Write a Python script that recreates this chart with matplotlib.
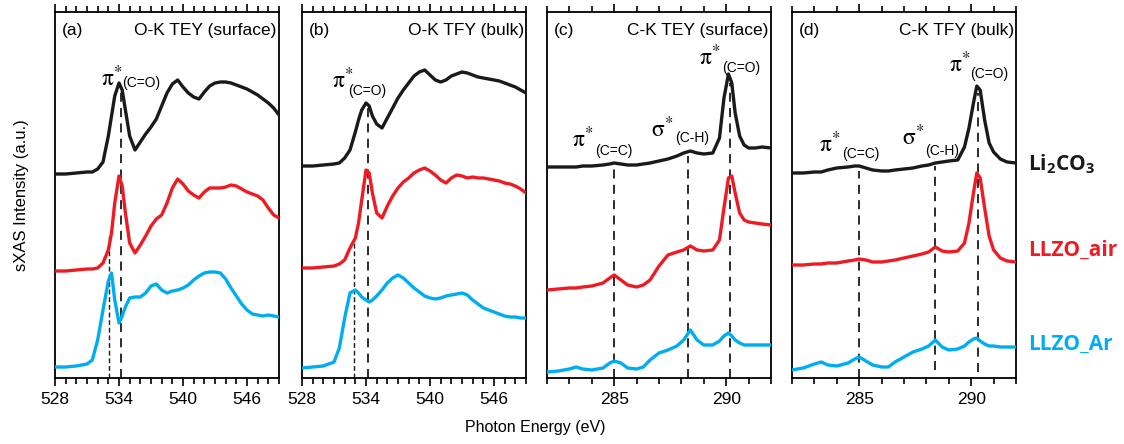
# sXAS spectra: O-K and C-K edges, TEY (surface) and TFY (bulk)

import matplotlib
matplotlib.use('Agg')
import matplotlib.pyplot as plt

plt.rcParams['font.family'] = ['Liberation Sans', 'DejaVu Sans']
plt.rcParams['mathtext.fontset'] = 'custom'
plt.rcParams['mathtext.rm'] = 'Open Sans:bold'
plt.rcParams['mathtext.bf'] = 'Open Sans:bold'

BLACK = '#1a1a1a'
RED = '#ed1c24'
BLUE = '#00aeef'

# O-K energies (eV)
e_ok = [528, 529, 530, 531, 531.5, 532, 532.5, 533, 533.3, 533.6, 534, 534.3, 534.6,
        535, 535.5, 536, 536.5, 537, 537.5, 538, 538.5, 539, 539.5, 540, 540.5, 541,
        541.5, 542, 542.5, 543, 543.5, 544, 544.5, 545, 545.5, 546, 546.5, 547, 547.5,
        548, 548.5, 549]

# (a) O-K TEY
a_li2co3 = [2.04, 2.04, 2.05, 2.06, 2.06, 2.09, 2.16, 2.42, 2.62, 2.82, 2.95, 2.88, 2.68,
            2.42, 2.28, 2.36, 2.44, 2.51, 2.59, 2.72, 2.85, 2.94, 2.98, 2.91, 2.85, 2.81,
            2.79, 2.86, 2.92, 2.95, 2.96, 2.96, 2.95, 2.93, 2.91, 2.89, 2.86, 2.83, 2.79,
            2.75, 2.70, 2.63]
a_air = [1.07, 1.07, 1.08, 1.09, 1.09, 1.10, 1.15, 1.28, 1.45, 1.75, 2.02, 1.92, 1.65,
         1.35, 1.25, 1.33, 1.42, 1.52, 1.59, 1.63, 1.75, 1.90, 1.99, 1.94, 1.87, 1.83,
         1.80, 1.86, 1.90, 1.90, 1.90, 1.91, 1.93, 1.92, 1.89, 1.86, 1.84, 1.82, 1.78,
         1.70, 1.63, 1.60]
a_ar = [0.11, 0.11, 0.12, 0.14, 0.18, 0.38, 0.68, 0.97, 1.05, 0.78, 0.55, 0.62, 0.71,
        0.80, 0.81, 0.81, 0.85, 0.92, 0.94, 0.88, 0.85, 0.87, 0.88, 0.90, 0.93, 0.98,
        1.02, 1.05, 1.06, 1.06, 1.05, 0.99, 0.90, 0.82, 0.74, 0.68, 0.64, 0.63, 0.62,
        0.63, 0.62, 0.61]

# (b) O-K TFY
b_li2co3 = [2.12, 2.12, 2.13, 2.14, 2.15, 2.20, 2.28, 2.46, 2.58, 2.68, 2.75, 2.72, 2.62,
            2.54, 2.50, 2.60, 2.70, 2.80, 2.88, 2.95, 3.02, 3.06, 3.08, 3.03, 2.98, 2.96,
            2.98, 3.02, 3.04, 3.06, 3.05, 3.03, 3.01, 3.00, 2.99, 2.98, 2.97, 2.95, 2.93,
            2.91, 2.88, 2.85]
b_air = [1.10, 1.10, 1.11, 1.12, 1.14, 1.18, 1.30, 1.40, 1.55, 1.78, 2.08, 2.05, 1.85,
         1.65, 1.60, 1.72, 1.82, 1.90, 1.96, 2.00, 2.05, 2.08, 2.10, 2.07, 2.03, 1.98,
         1.95, 2.00, 2.03, 2.02, 2.00, 2.01, 2.00, 2.00, 1.99, 1.98, 1.97, 1.95, 1.94,
         1.92, 1.89, 1.85]
b_ar = [0.10, 0.11, 0.12, 0.16, 0.30, 0.60, 0.85, 0.88, 0.85, 0.81, 0.78, 0.76, 0.78,
        0.82, 0.88, 0.95, 1.00, 1.03, 1.00, 0.95, 0.90, 0.86, 0.82, 0.80, 0.79, 0.80,
        0.82, 0.83, 0.84, 0.85, 0.83, 0.78, 0.74, 0.70, 0.68, 0.66, 0.64, 0.62, 0.61,
        0.61, 0.60, 0.60]

# C-K energies (eV)
e_ck = [282, 282.5, 283, 283.3, 283.6, 284, 284.5, 284.8, 285, 285.3, 285.6, 286, 286.3,
        286.6, 287, 287.4, 287.8, 288.1, 288.4, 288.7, 289, 289.4, 289.7, 289.9, 290.1,
        290.25, 290.4, 290.6, 290.8, 291, 291.3, 291.6, 292]

# (c) C-K TEY
c_li2co3 = [2.11, 2.11, 2.11, 2.11, 2.12, 2.12, 2.13, 2.14, 2.15, 2.14, 2.13, 2.13, 2.14,
            2.15, 2.17, 2.19, 2.22, 2.25, 2.27, 2.25, 2.24, 2.25, 2.40, 2.80, 3.04,
            2.95, 2.65, 2.42, 2.33, 2.30, 2.30, 2.31, 2.30]
c_air = [0.88, 0.89, 0.90, 0.90, 0.91, 0.92, 0.95, 1.00, 1.03, 0.98, 0.93, 0.91, 0.93,
         0.98, 1.12, 1.23, 1.26, 1.28, 1.32, 1.28, 1.27, 1.28, 1.38, 1.70, 2.00,
         2.02, 1.85, 1.65, 1.58, 1.56, 1.55, 1.54, 1.53]
c_ar = [0.06, 0.07, 0.09, 0.11, 0.09, 0.08, 0.10, 0.15, 0.17, 0.15, 0.10, 0.09, 0.11,
        0.18, 0.25, 0.28, 0.32, 0.38, 0.48, 0.38, 0.33, 0.33, 0.37, 0.42, 0.45,
        0.42, 0.38, 0.35, 0.33, 0.33, 0.33, 0.33, 0.33]

# (d) C-K TFY
d_li2co3 = [2.05, 2.05, 2.06, 2.06, 2.08, 2.10, 2.11, 2.12, 2.12, 2.10, 2.08, 2.07, 2.07,
            2.08, 2.09, 2.10, 2.12, 2.13, 2.15, 2.16, 2.17, 2.18, 2.31, 2.50, 2.75,
            2.92, 2.88, 2.58, 2.35, 2.26, 2.19, 2.16, 2.15]
d_air = [1.13, 1.13, 1.14, 1.14, 1.15, 1.15, 1.17, 1.18, 1.19, 1.18, 1.16, 1.16, 1.17,
         1.18, 1.20, 1.22, 1.24, 1.26, 1.31, 1.27, 1.26, 1.27, 1.35, 1.55, 1.85,
         2.05, 2.00, 1.70, 1.42, 1.28, 1.20, 1.17, 1.16]
d_ar = [0.08, 0.10, 0.14, 0.16, 0.13, 0.12, 0.15, 0.19, 0.21, 0.17, 0.13, 0.11, 0.11,
        0.16, 0.21, 0.26, 0.29, 0.32, 0.38, 0.31, 0.28, 0.29, 0.32, 0.36, 0.39,
        0.40, 0.37, 0.34, 0.32, 0.32, 0.31, 0.31, 0.31]

titles = ['O-K TEY (surface)', 'O-K TFY (bulk)', 'C-K TEY (surface)', 'C-K TFY (bulk)']
tags = ['(a)', '(b)', '(c)', '(d)']
sample_names = [r'Li$_\mathbf{2}$CO$_\mathbf{3}$', 'LLZO_air', 'LLZO_Ar']

# peak markers: energy, top, bottom (long dashes)
marks_a = [(534.15, 2.88, 0.0)]
marks_b = [(534.15, 2.70, 0.0)]
marks_c = [(285.0, 2.10, 0.0), (288.3, 2.22, 0.0), (290.15, 2.95, 0.0)]
marks_d = [(285.0, 2.07, 0.0), (288.4, 2.12, 0.08), (290.3, 2.85, 0.06)]
# fine dashes (shoulder of LLZO)
fine_a = [(533.1, 1.45, 0.0)]
fine_b = [(532.85, 1.38, 0.0)]

PI = r'$\mathrm{\pi}^{*}$'
SIGMA = r'$\mathrm{\sigma}^{*}$'
# peak labels: symbol, sub, x, y, x_sub, y_sub
labels_a = [(PI, '(C=O)', 532.3, 2.92, 534.3, 2.91)]
labels_b = [(PI, '(C=O)', 530.8, 2.90, 532.3, 2.83)]
labels_c = [(PI, '(C=C)', 283.1, 2.31, 284.14, 2.23),
            (SIGMA, '(C-H)', 286.65, 2.41, 287.71, 2.36),
            (PI, '(C=O)', 288.8, 3.13, 289.81, 3.06)]
labels_d = [(PI, '(C=C)', 283.2, 2.26, 284.23, 2.20),
            (SIGMA, '(C-H)', 286.9, 2.33, 287.94, 2.23),
            (PI, '(C=O)', 289.0, 3.06, 289.95, 3.00)]

fig = plt.figure(figsize=(11.24, 4.44), dpi=100)
lefts = [55, 302, 547, 792]
axes = [fig.add_axes([l / 1124, 66 / 444, 224 / 1124, 366 / 444]) for l in lefts]

panels = [
    (e_ok, [a_li2co3, a_air, a_ar], marks_a, fine_a, labels_a, (528, 549)),
    (e_ok, [b_li2co3, b_air, b_ar], marks_b, fine_b, labels_b, (528, 549)),
    (e_ck, [c_li2co3, c_air, c_ar], marks_c, [], labels_c, (282, 292)),
    (e_ck, [d_li2co3, d_air, d_ar], marks_d, [], labels_d, (282, 292)),
]

for i, (ax, (energy, curves, marks, fine, labels, xlim)) in enumerate(zip(axes, panels)):
    for yy, col in zip(curves, [BLACK, RED, BLUE]):
        ax.plot(energy, yy, color=col, lw=2.4, solid_joinstyle='round', zorder=3)
    for x, top, bot in marks:
        ax.plot([x, x], [bot, top], color=BLACK, lw=1.3, ls=(0, (5, 3.5)), zorder=2)
    for x, top, bot in fine:
        ax.plot([x, x], [bot, top], color=BLACK, lw=1.0, ls=(0, (3.5, 2)), zorder=2)
    for sym, sub, x, y, xs, ys in labels:
        ax.text(x, y, sym, fontsize=17, va='baseline', ha='left',
                math_fontfamily='stix')
        ax.text(xs, ys, sub, fontsize=10, va='baseline', ha='left')

    ax.set_xlim(*xlim)
    ax.set_ylim(0, 3.66)
    ax.set_yticks([])
    if i < 2:
        ax.set_xticks([528, 534, 540, 546])
        ax.set_xticks(range(528, 550), minor=True)
    else:
        ax.set_xticks([285, 290])
        ax.set_xticks(range(282, 293), minor=True)
    ax.tick_params(axis='x', which='both', direction='out', top=True,
                   labelsize=12.5, width=1.2, pad=4)
    ax.tick_params(axis='x', which='major', length=6)
    ax.tick_params(axis='x', which='minor', length=4)
    for s in ax.spines.values():
        s.set_linewidth(1.3)
    ax.text(0.03, 0.937, tags[i], transform=ax.transAxes, fontsize=12.5,
            ha='left', va='baseline')
    ax.text(0.99, 0.937, titles[i], transform=ax.transAxes, fontsize=12.5,
            ha='right', va='baseline')

fig.text(0.0195, 1 - 195 / 444, 'sXAS Intensity (a.u.)', rotation=90,
         ha='center', va='center', fontsize=12)
fig.text(535 / 1124, 0.02, 'Photon Energy (eV)', ha='center', va='bottom', fontsize=11.5)

name_y = [1 - 170 / 444, 1 - 256 / 444, 1 - 350 / 444]
for name, col, yy in zip(sample_names, [BLACK, RED, BLUE], name_y):
    fig.text(1028 / 1124, yy, name, color=col, fontsize=15, fontfamily='Open Sans',
             fontweight='bold', ha='left', va='baseline')

fig.savefig('out.png', dpi=100)
